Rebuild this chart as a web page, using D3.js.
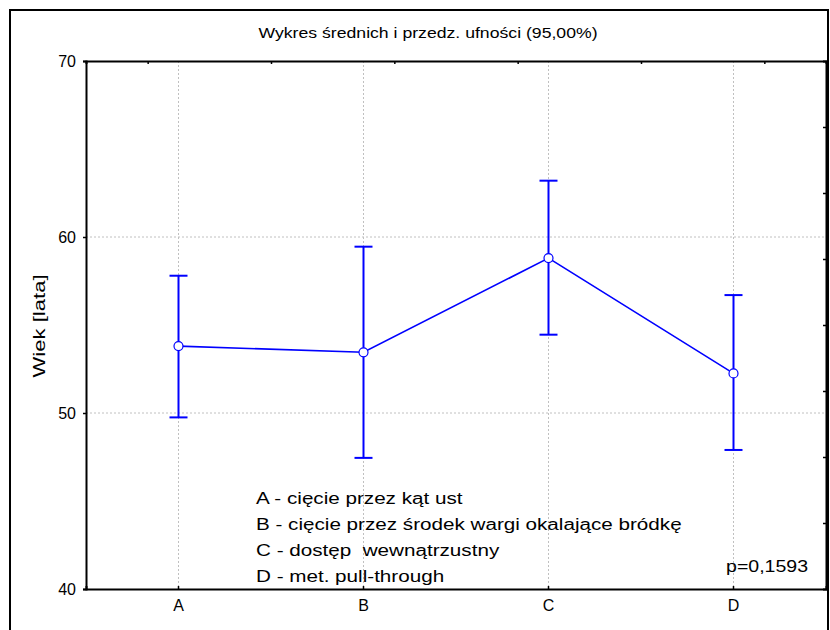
<!DOCTYPE html>
<html>
<head>
<meta charset="utf-8">
<script src="https://cdn.jsdelivr.net/npm/d3@7"></script>
<style>
  body { margin: 0; background: #fff; }
  svg { font-family: "Liberation Sans", Arial, sans-serif; }
</style>
</head>
<body>
<div id="chart"></div>
<script>
// Chart data
const categories = ["A", "B", "C", "D"];
const means = [53.8, 53.45, 58.8, 52.25];
const lower = [49.75, 47.45, 54.45, 47.9];
const upper = [57.8, 59.45, 63.2, 56.7];
const yTicks = [40, 50, 60, 70];
const legendLines = [
  "A - cięcie przez kąt ust",
  "B - cięcie przez środek wargi okalające bródkę",
  "C - dostęp  wewnątrzustny",
  "D - met. pull-through"
];
const pText = "p=0,1593";
const title = "Wykres średnich i przedz. ufności (95,00%)";
const yLabel = "Wiek [lata]";

const w = 830, h = 630;
const plotLeft = 86, plotRight = 826, plotTop = 61, plotBottom = 589;

const svg = d3.select("#chart").append("svg")
  .attr("width", w)
  .attr("height", h);

// the original text is rendered wider than Arial, so stretch it a little
function stretch(sel, k) {
  sel.each(function() {
    const len = this.getComputedTextLength();
    d3.select(this).attr("textLength", len * k).attr("lengthAdjust", "spacingAndGlyphs");
  });
}

// outer frame
svg.append("rect")
  .attr("x", 10).attr("y", 10)
  .attr("width", 818).attr("height", 640)
  .attr("fill", "none")
  .attr("stroke", "#000")
  .attr("stroke-width", 2);

const x = d3.scaleBand().domain(categories).range([plotLeft, plotRight]);
const cx = d => x(d) + x.bandwidth() / 2;
const y = d3.scaleLinear().domain([40, 70]).range([plotBottom, plotTop]);

// grid
const grid = svg.append("g").attr("stroke", "#c0c0c0").attr("stroke-dasharray", "2,2");
grid.selectAll(".vg").data(categories).enter().append("line")
  .attr("x1", cx).attr("x2", cx)
  .attr("y1", plotTop).attr("y2", plotBottom);
grid.selectAll(".hg").data(yTicks.filter(t => t > 40 && t < 70)).enter().append("line")
  .attr("x1", plotLeft).attr("x2", plotRight)
  .attr("y1", d => y(d)).attr("y2", d => y(d));

// axes
svg.append("g")
  .attr("transform", "translate(" + plotLeft + ",0)")
  .call(d3.axisLeft(y).tickValues(yTicks).tickSize(3).tickPadding(7))
  .call(g => g.selectAll("text").attr("font-size", 16).attr("fill", "#000"));

svg.append("g")
  .attr("transform", "translate(0," + plotBottom + ")")
  .call(d3.axisBottom(x).tickSize(-3).tickPadding(11))
  .call(g => g.selectAll("text").attr("font-size", 16).attr("fill", "#000"));

// secondary top and right ticks
const xTop = d3.scaleLinear().domain([0, 12]).range([plotLeft, plotRight]);
svg.append("g")
  .attr("transform", "translate(0," + plotTop + ")")
  .call(d3.axisTop(xTop).tickValues([1, 3, 5, 7, 9, 11]).tickSize(-3).tickFormat(""));

const yRight = d3.scaleLinear().domain([0, 8]).range([plotBottom, plotTop]);
svg.append("g")
  .attr("transform", "translate(" + plotRight + ",0)")
  .call(d3.axisRight(yRight).tickValues(d3.range(1, 8)).tickSize(-3).tickFormat(""));

svg.selectAll(".domain").attr("stroke", "#000").attr("stroke-width", 2);
svg.selectAll(".tick line").attr("stroke", "#000").attr("stroke-width", 1.5);

// error bars
const blue = "#0000ff";
const bars = svg.append("g").attr("stroke", blue).attr("stroke-width", 2);
bars.selectAll(".eb").data(categories).enter().append("line")
  .attr("x1", cx).attr("x2", cx)
  .attr("y1", (d, i) => y(upper[i])).attr("y2", (d, i) => y(lower[i]));
bars.selectAll(".cu").data(categories).enter().append("line")
  .attr("x1", d => cx(d) - 9).attr("x2", d => cx(d) + 9)
  .attr("y1", (d, i) => y(upper[i])).attr("y2", (d, i) => y(upper[i]));
bars.selectAll(".cl").data(categories).enter().append("line")
  .attr("x1", d => cx(d) - 9).attr("x2", d => cx(d) + 9)
  .attr("y1", (d, i) => y(lower[i])).attr("y2", (d, i) => y(lower[i]));

// mean line
const line = d3.line().x(d => cx(d)).y((d, i) => y(means[i]));
svg.append("path")
  .datum(categories)
  .attr("d", line)
  .attr("fill", "none")
  .attr("stroke", blue)
  .attr("stroke-width", 1.6);

svg.selectAll(".pt").data(categories).enter().append("circle")
  .attr("cx", cx)
  .attr("cy", (d, i) => y(means[i]))
  .attr("r", 4.5)
  .attr("fill", "#fff")
  .attr("stroke", blue)
  .attr("stroke-width", 1.2);

// texts
svg.append("text")
  .attr("x", 428).attr("y", 38)
  .attr("text-anchor", "middle")
  .attr("font-size", 14)
  .text(title)
  .call(stretch, 1.26);

svg.append("text")
  .attr("transform", "translate(45,326) rotate(-90)")
  .attr("text-anchor", "middle")
  .attr("font-size", 17)
  .text(yLabel)
  .call(stretch, 1.3);

svg.append("g").selectAll("text").data(legendLines).enter().append("text")
  .attr("x", 256)
  .attr("y", (d, i) => 504 + i * 26)
  .attr("font-size", 16)
  .attr("xml:space", "preserve")
  .style("white-space", "pre")
  .text(d => d)
  .call(stretch, 1.29);

svg.append("text")
  .attr("x", 808).attr("y", 572)
  .attr("text-anchor", "end")
  .attr("font-size", 16)
  .text(pText)
  .call(stretch, 1.22);
</script>
</body>
</html>
